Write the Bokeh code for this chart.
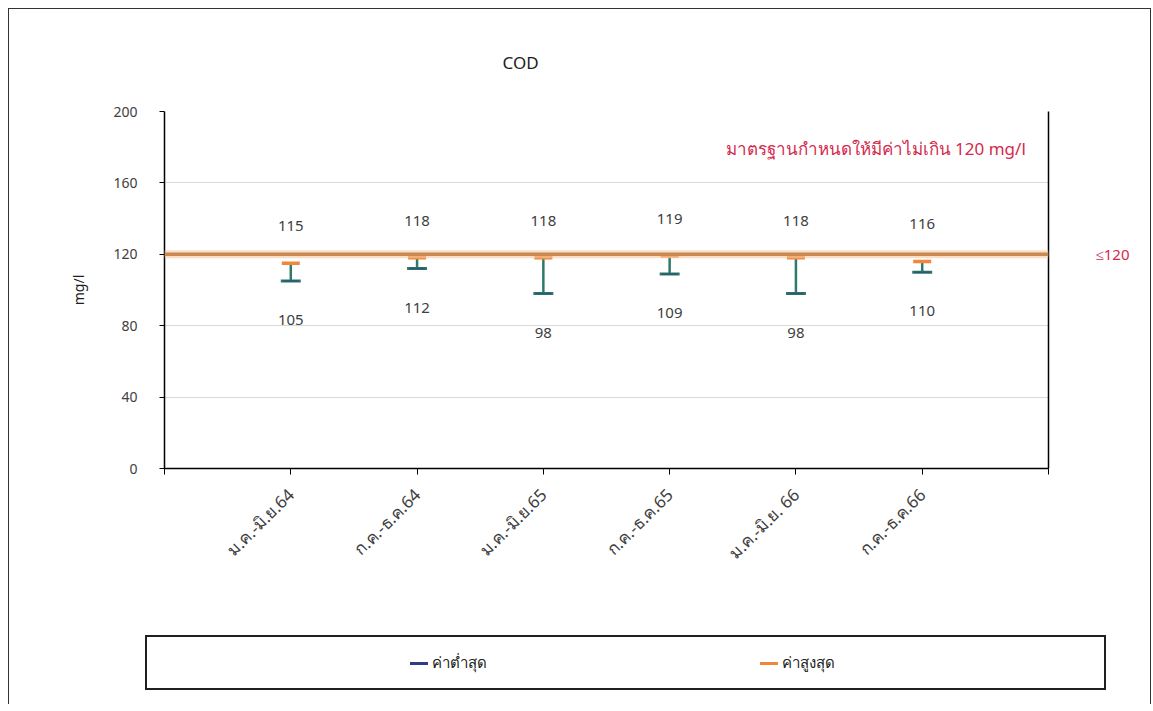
import numpy as np
from bokeh.plotting import figure
from bokeh.layouts import column
from bokeh.models import (ColumnDataSource, FixedTicker, LinearAxis, Span, Range1d, Div)
from bokeh.core.properties import value
from bokeh.embed import file_html
from bokeh.resources import INLINE

# ---- data ----
periods = ["ม.ค.-มิ.ย.64", "ก.ค.-ธ.ค.64", "ม.ค.-มิ.ย.65", "ก.ค.-ธ.ค.65", "ม.ค.-มิ.ย. 66", "ก.ค.-ธ.ค.66"]
max_vals = [115, 118, 118, 119, 118, 116]
min_vals = [105, 112, 98, 109, 98, 110]
standard = 120
y_ticks = [0, 40, 80, 120, 160, 200]
title_text = "COD"
y_label = "mg/l"
std_note = "มาตรฐานกำหนดให้มีค่าไม่เกิน 120 mg/l"
std_tag = "≤120"
legend_min = "ค่าต่ำสุด"
legend_max = "ค่าสูงสุด"

FONT = "Noto Sans"
TXT = "#404040"
TEAL = "#2E7A68"
NAVY = "#2B3E86"
ORANGE = "#F0873A"
STDCOL = "#C98A55"
RED = "#D42A4E"

xs = list(range(1, len(periods) + 1))
src = ColumnDataSource(dict(x=xs, mx=max_vals, mn=min_vals,
                            mxl=[str(v) for v in max_vals], mnl=[str(v) for v in min_vals]))

W = 1141
p = figure(width=W, height=612, output_backend="svg", toolbar_location=None,
           x_range=Range1d(0, len(periods) + 1), y_range=Range1d(0, 200),
           min_border_left=155, min_border_top=102, min_border_right=102, min_border_bottom=153)
p.background_fill_color = "white"
p.border_fill_color = "white"
p.outline_line_color = None

# title
p.title.text = title_text
p.title.align = "left"
p.title.offset = 338
p.title.standoff = 76
p.title.text_font = FONT
p.title.text_font_size = "17px"
p.title.text_font_style = "normal"
p.title.text_color = "#202020"

# axes
p.yaxis.ticker = FixedTicker(ticks=y_ticks)
p.yaxis.axis_line_color = "black"
p.yaxis.axis_line_width = 1.5
p.yaxis.major_tick_out = 5
p.yaxis.major_tick_in = 0
p.yaxis.minor_tick_line_color = None
p.yaxis.major_tick_line_color = "black"
p.yaxis.major_label_standoff = 22
p.yaxis.major_label_text_font = FONT
p.yaxis.major_label_text_font_size = "14px"
p.yaxis.major_label_text_color = TXT
p.yaxis.axis_label = y_label
p.yaxis.axis_label_text_font = FONT
p.yaxis.axis_label_text_font_size = "14px"
p.yaxis.axis_label_text_font_style = "normal"
p.yaxis.axis_label_text_color = "#202020"
p.yaxis.axis_label_standoff = 22

p.xaxis.ticker = FixedTicker(ticks=list(range(0, len(periods) + 2)))
overrides = {0: "", len(periods) + 1: ""}
for i, lab in enumerate(periods):
    overrides[i + 1] = lab
p.xaxis.major_label_overrides = overrides
p.xaxis.major_label_orientation = np.pi / 4
p.xaxis.axis_line_color = "black"
p.xaxis.axis_line_width = 1.5
p.xaxis.major_tick_out = 6
p.xaxis.major_tick_in = 0
p.xaxis.minor_tick_line_color = None
p.xaxis.major_tick_line_color = "black"
p.xaxis.major_label_text_font = FONT
p.xaxis.major_label_text_font_size = "17px"
p.xaxis.major_label_text_color = TXT
p.xaxis.major_label_standoff = 17

right_axis = LinearAxis(ticker=FixedTicker(ticks=[standard]), axis_line_color="black", axis_line_width=1.5,
                        major_tick_line_color=None, minor_tick_line_color=None,
                        major_label_overrides={standard: std_tag},
                        major_label_standoff=41, major_label_text_font=FONT,
                        major_label_text_font_size="15px", major_label_text_color=RED)
p.add_layout(right_axis, "right")

p.xgrid.grid_line_color = None
p.ygrid.ticker = FixedTicker(ticks=y_ticks)
p.ygrid.grid_line_color = "#D9D9D9"

# standard line
p.add_layout(Span(location=standard, dimension="width", line_color="#F6C9A0", line_width=8, line_alpha=0.6))
p.add_layout(Span(location=standard, dimension="width", line_color=STDCOL, line_width=3.5))

# range bars
p.segment(x0="x", y0="mx", x1="x", y1="mn", source=src, line_color=TEAL, line_width=2.5)
p.scatter(x="x", y="mn", source=src, marker="dash", size=20, line_color=TEAL, line_width=3)
p.scatter(x="x", y="mn", source=src, marker="dash", size=16, line_color=NAVY, line_width=1.5, line_alpha=0.6)
p.scatter(x="x", y="mx", source=src, marker="dash", size=18, line_color=ORANGE, line_width=3.5)

# value labels
p.text(x="x", y="mx", text="mxl", source=src, y_offset=-37, text_align="center", text_baseline="middle",
       text_font=value(FONT), text_font_size="15px", text_color=TXT)
p.text(x="x", y="mn", text="mnl", source=src, y_offset=39, text_align="center", text_baseline="middle",
       text_font=value(FONT), text_font_size="15px", text_color=TXT)

# standard note (inside the plot area, top right)
p.text(x=[len(periods) + 0.82], y=[179], text=[std_note], text_align="right", text_baseline="middle",
       text_font=value(FONT), text_font_size="17px", text_color=RED)

# ---- legend box below the chart ----
def legend_entry(left, color, label):
    return (f'<div style="position:absolute;left:{left}px;top:31px;height:22px;display:flex;align-items:center;'
            f'font-family:\'{FONT}\';font-size:15px;color:#202020;white-space:nowrap;">'
            f'<span style="display:inline-block;width:18px;height:3px;background:{color};margin-right:4px;"></span>'
            f'<span>{label}</span></div>')

legend_html = ('<div style="position:relative;width:1141px;height:83px;">'
               '<div style="position:absolute;left:136px;top:14px;width:961px;height:55px;'
               'border:2px solid #202020;background:white;"></div>'
               + legend_entry(401, NAVY, legend_min)
               + legend_entry(751, ORANGE, legend_max)
               + '</div>')
lg = Div(text=legend_html, width=W, height=83, styles={"padding": "0", "margin": "0"})

layout = column(p, lg, spacing=0,
                styles={"border": "1px solid #333", "border-bottom": "none",
                        "margin-left": "8px", "margin-top": "8px"})
open("out.html", "w").write(file_html(layout, INLINE))
